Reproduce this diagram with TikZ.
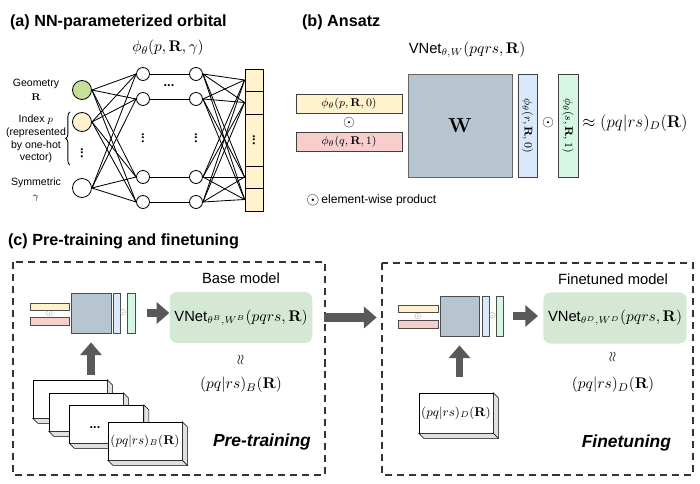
\documentclass[tikz,border=0pt]{standalone}
\usepackage[no-math]{fontspec}
\setmainfont{Liberation Sans}
\usetikzlibrary{arrows.meta,decorations.pathreplacing}

\definecolor{geo}{RGB}{197,224,153}
\definecolor{idx}{RGB}{255,242,204}
\definecolor{pink}{RGB}{248,206,204}
\definecolor{wgray}{RGB}{183,197,209}
\definecolor{rblue}{RGB}{218,232,252}
\definecolor{smint}{RGB}{212,246,226}
\definecolor{mgreen}{RGB}{213,232,212}
\definecolor{agray}{RGB}{89,89,89}

% side faces of a card
\newcommand\slab[1]{%
  \filldraw[fill=black!12,line width=0.4pt] (#1.north east) -- ++(5,5) -- ([shift={(5,5)}]#1.south east) -- (#1.south east) -- cycle;
  \filldraw[fill=black!12,line width=0.4pt] (#1.south west) -- ++(5,5) -- ([shift={(5,5)}]#1.south east) -- (#1.south east) -- cycle;}
% bold vertical dots
\newcommand\vdts{\rotatebox{90}{\bfseries\fontsize{9}{9}\selectfont...}}

\begin{document}
\begin{tikzpicture}[x=0.025cm,y=-0.025cm,line width=0.6pt,
  neuron/.style={circle,draw,fill=white,inner sep=0pt,minimum size=3.25mm},
  inp/.style={circle,draw,inner sep=0pt,minimum size=4.75mm},
  cell/.style={draw,fill=idx,minimum width=4.5mm,inner sep=0pt},
  bar/.style={draw=black!75,inner sep=0pt,font=\fontsize{8}{9}\selectfont},
  tiny/.style={draw=black!70,line width=0.4pt,inner sep=0pt},
  ttl/.style={anchor=west,font=\fontsize{11.5}{13}\selectfont\bfseries},
  lbl/.style={align=center,font=\fontsize{7.5}{9}\selectfont},
  card/.style={draw,fill=white,minimum width=18.5mm,minimum height=9.5mm,inner sep=0pt,line width=0.4pt,font=\fontsize{9}{10}\selectfont},
  fat/.style={draw=agray,line width=5pt,-{Triangle[length=9pt,width=15pt]}},
  mbox/.style={fill=mgreen,rounded corners=5pt,minimum height=12.75mm,font=\fontsize{10.5}{12}\selectfont},
  frame/.style={draw=black!80,line width=0.8pt,dash pattern=on 5pt off 3.5pt},
  note/.style={font=\fontsize{10.5}{12}\selectfont},
  dts/.style={inner sep=0pt},
  stage/.style={anchor=east,font=\fontsize{12.4}{14}\selectfont\bfseries\itshape}]
\useasboundingbox (0,0) rectangle (700,484);

% (a) NN-parameterized orbital
\node[ttl] (ta) at (5,22) {(a) NN-parameterized orbital};
\node[font=\fontsize{11}{12}\selectfont] (phi) at (168,48) {$\phi_\theta(p,\mathbf{R},\gamma)$};
\node[lbl] (lg) at (36,90) {Geometry\\[1pt]$\mathbf{R}$};
\node[lbl] (li) at (36,139) {Index $p$\\(represented\\by one-hot\\vector)};
\node[lbl] (ls) at (36,190) {Symmetric\\[1pt]$\gamma$};
\draw[decorate,decoration={brace,amplitude=3pt}] (70,165) -- (70,112);
\node[inp,fill=geo] (g) at (82,90) {};
\node[inp,fill=idx] (ip) at (82,122) {};
\node[dts] (idots) at (82,153) {\vdts};
\node[inp,fill=white] (sy) at (82,188) {};
\foreach \y [count=\j] in {74,99,177,202} {
  \node[neuron] (h1\j) at (143,\y) {};
  \node[neuron] (h2\j) at (196,\y) {};
}
\node[dts,font=\bfseries\fontsize{9}{9}\selectfont] (hdots) at (169,86) {...};
\node[dts] (vd1) at (143,138) {\vdts};
\node[dts] (vd2) at (196,138) {\vdts};
\node[cell,minimum height=5.5mm] (o1) at (254,80) {};
\node[cell,minimum height=5.75mm] (o2) at (254,102.5) {};
\node[cell,minimum height=13mm] (o3) at (254,140) {\vdts};
\node[cell,minimum height=5.5mm] (o4) at (254,177) {};
\node[cell,minimum height=5.75mm] (o5) at (254,199.5) {};
\foreach \i in {g,ip,sy}
  \foreach \j in {1,...,4}
    \draw (\i.east) -- (h1\j.west);
\foreach \j in {1,...,4}
  \draw (h1\j) -- (h2\j);
\foreach \j in {1,...,4}
  \foreach \k in {1,2,4,5}
    \draw (h2\j.east) -- (o\k.west);

% (b) Ansatz
\node[ttl] (tb) at (297,22) {(b) Ansatz};
\node[note] (vnet) at (467,50) {VNet$_{\theta,W}(pqrs,\mathbf{R})$};
\node[bar,fill=idx,minimum width=26.5mm,minimum height=4.75mm] (bp) at (349,103.5) {$\phi_\theta(p,\mathbf{R},0)$};
\node[font=\fontsize{11}{11}\selectfont] (od1) at (349,123) {$\odot$};
\node[bar,fill=pink,minimum width=26.5mm,minimum height=4.75mm] (bq) at (349,142) {$\phi_\theta(q,\mathbf{R},1)$};
\node[bar,fill=wgray,draw=black!60,minimum width=26mm,minimum height=25.75mm,font=\fontsize{14}{14}\selectfont] (bw) at (460,125.5) {$\mathbf{W}$};
\node[bar,fill=rblue,rotate=-90,minimum width=25.75mm,minimum height=4.75mm] (br) at (527.5,125.5) {$\phi_\theta(r,\mathbf{R},0)$};
\node[font=\fontsize{11}{11}\selectfont] (od2) at (548,123) {$\odot$};
\node[bar,fill=smint,rotate=-90,minimum width=25.75mm,minimum height=5mm] (bs) at (568,125.5) {$\phi_\theta(s,\mathbf{R},1)$};
\node[anchor=west,inner sep=0pt,font=\fontsize{12}{13}\selectfont] (appr) at (582,123) {$\approx(pq|rs)_D(\mathbf{R})$};
\node[font=\fontsize{12}{12}\selectfont] (od3) at (313,200) {$\odot$};
\node[anchor=west,inner sep=0pt,font=\fontsize{8.6}{10}\selectfont] (leg) at (321,200) {element-wise product};

% (c) Pre-training and finetuning
\node[ttl] (tc) at (3,241) {(c) Pre-training and finetuning};
\draw[frame] (13,262) rectangle (325,475);
\draw[frame] (382,263) rectangle (693,475);

% base model
\node[tiny,fill=idx,minimum width=9.75mm,minimum height=1.75mm] (bp1) at (49.5,306.5) {};
\node[font=\fontsize{4}{4}\selectfont,text=black!60] (os1) at (49.5,313.5) {$\odot$};
\node[tiny,fill=pink,minimum width=9.75mm,minimum height=2mm] (bq1) at (49.5,321) {};
\node[tiny,fill=wgray,minimum width=10mm,minimum height=10mm] (bw1) at (91,313) {};
\node[tiny,fill=rblue,minimum width=1.75mm,minimum height=10mm] (br1) at (116.5,313) {};
\node[font=\fontsize{4}{4}\selectfont,text=black!60] (os2) at (123,313) {$\odot$};
\node[tiny,fill=smint,minimum width=2mm,minimum height=10mm] (bs1) at (131,313) {};
\node[mbox,minimum width=34.5mm] (m1) at (241,317.5) {VNet$_{\theta^B,W^B}(pqrs,\mathbf{R})$};
\node[note] (n1) at (241,278) {Base model};
\node[font=\fontsize{10}{10}\selectfont] (ap1) at (241,360) {\rotatebox{90}{$\approx$}};
\node[font=\fontsize{11}{12}\selectfont] (e1) at (241,385) {$(pq|rs)_B(\mathbf{R})$};
\node[card] (c1) at (70,399) {};
\slab{c1}
\node[card] (c2) at (86,412) {};
\slab{c2}
\node[card] (c3) at (106.5,424) {};
\slab{c3}
\node[font=\bfseries\fontsize{9}{9}\selectfont] (c3d) at (95,428) {...};
\node[card] (c4) at (145,441) {$(pq|rs)_B(\mathbf{R})$};
\slab{c4}
\node[stage] (st1) at (316,442) {Pre-training};
\draw[fat,shorten <=8pt] (bs1.east) -- (bs1.east -| m1.west);
\draw[fat,shorten <=3.5pt,shorten >=6.5pt] (c1.north -| bw1) -- (bw1.south);

% finetuned model
\node[tiny,fill=idx,minimum width=10mm,minimum height=1.75mm] (bp2) at (418,309) {};
\node[font=\fontsize{4}{4}\selectfont,text=black!60] (os3) at (418,316.5) {$\odot$};
\node[tiny,fill=pink,minimum width=10mm,minimum height=2mm] (bq2) at (418,324) {};
\node[tiny,fill=wgray,minimum width=9.75mm,minimum height=10mm] (bw2) at (459.5,316) {};
\node[tiny,fill=rblue,minimum width=1.75mm,minimum height=10mm] (br2) at (485.5,316) {};
\node[font=\fontsize{4}{4}\selectfont,text=black!60] (os4) at (492.5,316) {$\odot$};
\node[tiny,fill=smint,minimum width=1.75mm,minimum height=10mm] (bs2) at (499.5,316) {};
\node[mbox,minimum width=35mm] (m2) at (615,318) {VNet$_{\theta^D,W^D}(pqrs,\mathbf{R})$};
\node[note] (n2) at (613,279) {Finetuned model};
\node[font=\fontsize{10}{10}\selectfont] (ap2) at (613,357) {\rotatebox{90}{$\approx$}};
\node[font=\fontsize{11}{12}\selectfont] (e2) at (613,385) {$(pq|rs)_D(\mathbf{R})$};
\node[card,minimum height=10mm] (c5) at (456,413) {$(pq|rs)_D(\mathbf{R})$};
\slab{c5}
\node[stage] (st2) at (676,443) {Finetuning};
\draw[fat,shorten <=7pt,shorten >=3.5pt] (bs2.east) -- (bs2.east -| m2.west);
\draw[fat,shorten <=11pt,shorten >=6.5pt] (c5.north -| bw2) -- (bw2.south);

% base -> finetuned
\draw[fat,line width=6pt,shorten <=8pt,shorten >=15pt] (m1.east) -- (m1.east -| bp2.west);
\end{tikzpicture}
\end{document}
